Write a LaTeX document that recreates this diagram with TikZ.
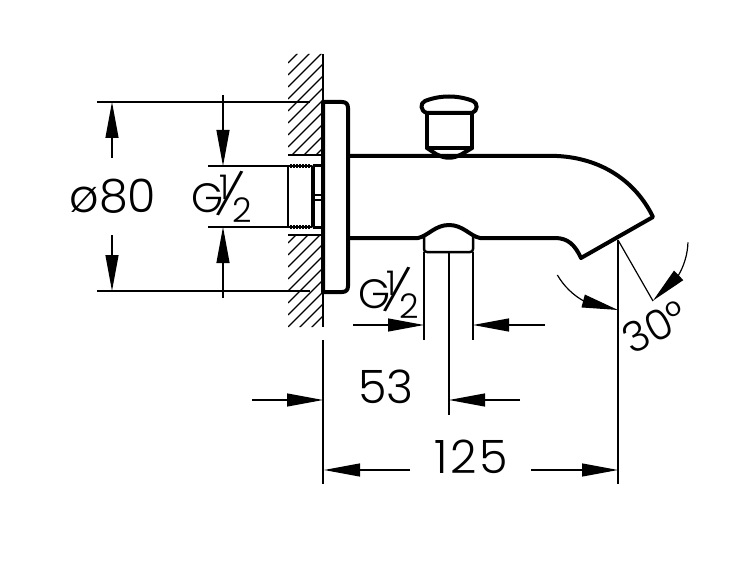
\documentclass[tikz,border=0pt]{standalone}
\usepackage{fontspec}
\usetikzlibrary{arrows.meta,bending}
\newfontfamily\dimfont{Poppins Light}

\tikzset{
  outline/.style={line width=4pt, line join=round, line cap=round},
  partline/.style={line width=2.5pt, line join=round},
  thin line/.style={line width=1.2pt},
  dimline/.style={line width=1.2pt, -{Triangle[length=36pt,width=13pt]}},
  dimtext/.style={inner sep=0pt, anchor=base, font=\dimfont\fontsize{46}{46}\selectfont},
  gtext/.style={inner sep=0pt, anchor=base west, font=\dimfont},
}

\newcommand{\gthread}{%
  \hbox to 62pt{%
    \rlap{\fontsize{41}{41}\selectfont G}%
    \rlap{\kern28pt\fontsize{34}{34}\selectfont\raisebox{13pt}{1}}%
    \rlap{\kern39pt\raisebox{1pt}{\makebox[0pt]{\rotatebox[origin=c]{-15}{\fontsize{44}{44}\selectfont /}}}}%
    \rlap{\kern41pt\fontsize{34}{34}\selectfont\raisebox{-10pt}{2}}\hss}}

\begin{document}
\begin{tikzpicture}[x=1pt, y=-1pt]
  \useasboundingbox (0, 0) rectangle (752, 564);

  % wall
  \begin{scope}
    \clip (288, 54) rectangle (323, 155) (288, 235) rectangle (323, 327);
    \foreach \k in {351, 363, ..., 651} {
      \draw[thin line] (288, \k - 288) -- ++(40, -40);
    }
  \end{scope}
  \draw[line width=1.5pt] (323, 54) -- (323, 327);
  \draw[thin line] (288, 155) -- (322, 155);
  \draw[thin line] (288, 235) -- (322, 235);

  % connection thread
  \draw[partline] (312, 166) -- (288, 166) -- (288, 227) -- (312, 227) -- cycle;
  \draw[line width=4pt, dash pattern=on 2pt off 1pt] (290, 166) -- (310, 166);
  \draw[line width=4pt, dash pattern=on 2pt off 1pt] (290, 227) -- (310, 227);
  \draw[line width=3pt] (313, 166) -- (322, 166);
  \draw[line width=3pt] (313, 227) -- (322, 227);
  \draw[thin line] (314, 166) -- (314, 227);
  \draw[thin line] (314, 195) -- (322, 195);
  \draw[thin line] (314, 200) -- (322, 200);

  % flange
  \draw[outline] (323, 102) -- (342, 102) .. controls (346, 102) and (348, 104) .. (348, 108)
    -- (348, 286) .. controls (348, 290) and (346, 292) .. (342, 292) -- (323, 292) -- cycle;

  % spout
  \draw[outline] (348, 156) -- (557, 156) .. controls (600, 158) and (635, 180) .. (653, 217)
    -- (581, 258) .. controls (575, 245) and (568, 238) .. (555, 238) -- (480, 238)
    .. controls (470, 236) and (463, 225) .. (449, 225)
    .. controls (435, 225) and (428, 236) .. (418, 238) -- (348, 238);

  % outlet thread
  \draw[partline] (424, 237) -- (424, 249) .. controls (424, 251) and (425, 252) .. (427, 252)
    -- (470, 252) .. controls (472, 252) and (473, 251) .. (473, 249) -- (473, 237);

  % diverter knob
  \draw[outline] (427, 113) .. controls (420, 111) and (420, 103) .. (425, 101)
    .. controls (440, 95) and (458, 95) .. (473, 101)
    .. controls (478, 103) and (478, 111) .. (472, 113) -- cycle;
  \draw[outline] (427, 113) -- (427, 148) -- (472, 148) -- (472, 113);
  \draw[outline] (427, 148) -- (436, 154) .. controls (445, 159) and (453, 159) .. (462, 154) -- (472, 148);

  % dimension 80
  \draw[thin line] (97, 102) -- (310, 102);
  \draw[thin line] (97, 291) -- (310, 291);
  \draw[dimline] (112, 158) -- (112, 102);
  \draw[dimline] (112, 235) -- (112, 291);
  \node[dimtext] (dia) at (113, 213) {\o 80};

  % dimension thread left
  \draw[thin line] (208, 166) -- (288, 166);
  \draw[thin line] (208, 227) -- (288, 227);
  \draw[dimline] (223, 95) -- (223, 166);
  \draw[dimline] (223, 298) -- (223, 227);
  \node[gtext] (gleft) at (191, 212) {\gthread};

  % dimension thread bottom
  \draw[thin line] (424, 252) -- (424, 340);
  \draw[thin line] (473, 252) -- (473, 340);
  \draw[dimline] (353, 325) -- (424, 325);
  \draw[dimline] (545, 325) -- (473, 325);
  \node[gtext] (gbottom) at (358, 308) {\gthread};

  % dimension 53
  \draw[thin line] (323, 340) -- (323, 484);
  \draw[thin line] (449, 252) -- (449, 415);
  \draw[dimline] (252, 400) -- (323, 400);
  \draw[dimline] (520, 400) -- (449, 400);
  \node[dimtext] (short) at (386, 403) {53};

  % dimension 125
  \draw[thin line] (618, 240) -- (618, 484);
  \draw[dimline] (410, 470) -- (324, 470);
  \draw[dimline] (531, 470) -- (618, 470);
  \node[dimtext] (long) at (471, 473) {\addfontfeature{LetterSpace=6}125};

  % angle
  \draw[thin line] (618, 240) -- (653, 301);
  \draw[dimline] (618, 240) ++(150:70) arc (150:90:70);
  \draw[dimline] (618, 240) ++(2:70) arc (2:60:70);
  \node[dimtext, rotate=28, font=\dimfont\fontsize{42}{42}\selectfont] (angle) at (662, 340) {30°};
\end{tikzpicture}
\end{document}
